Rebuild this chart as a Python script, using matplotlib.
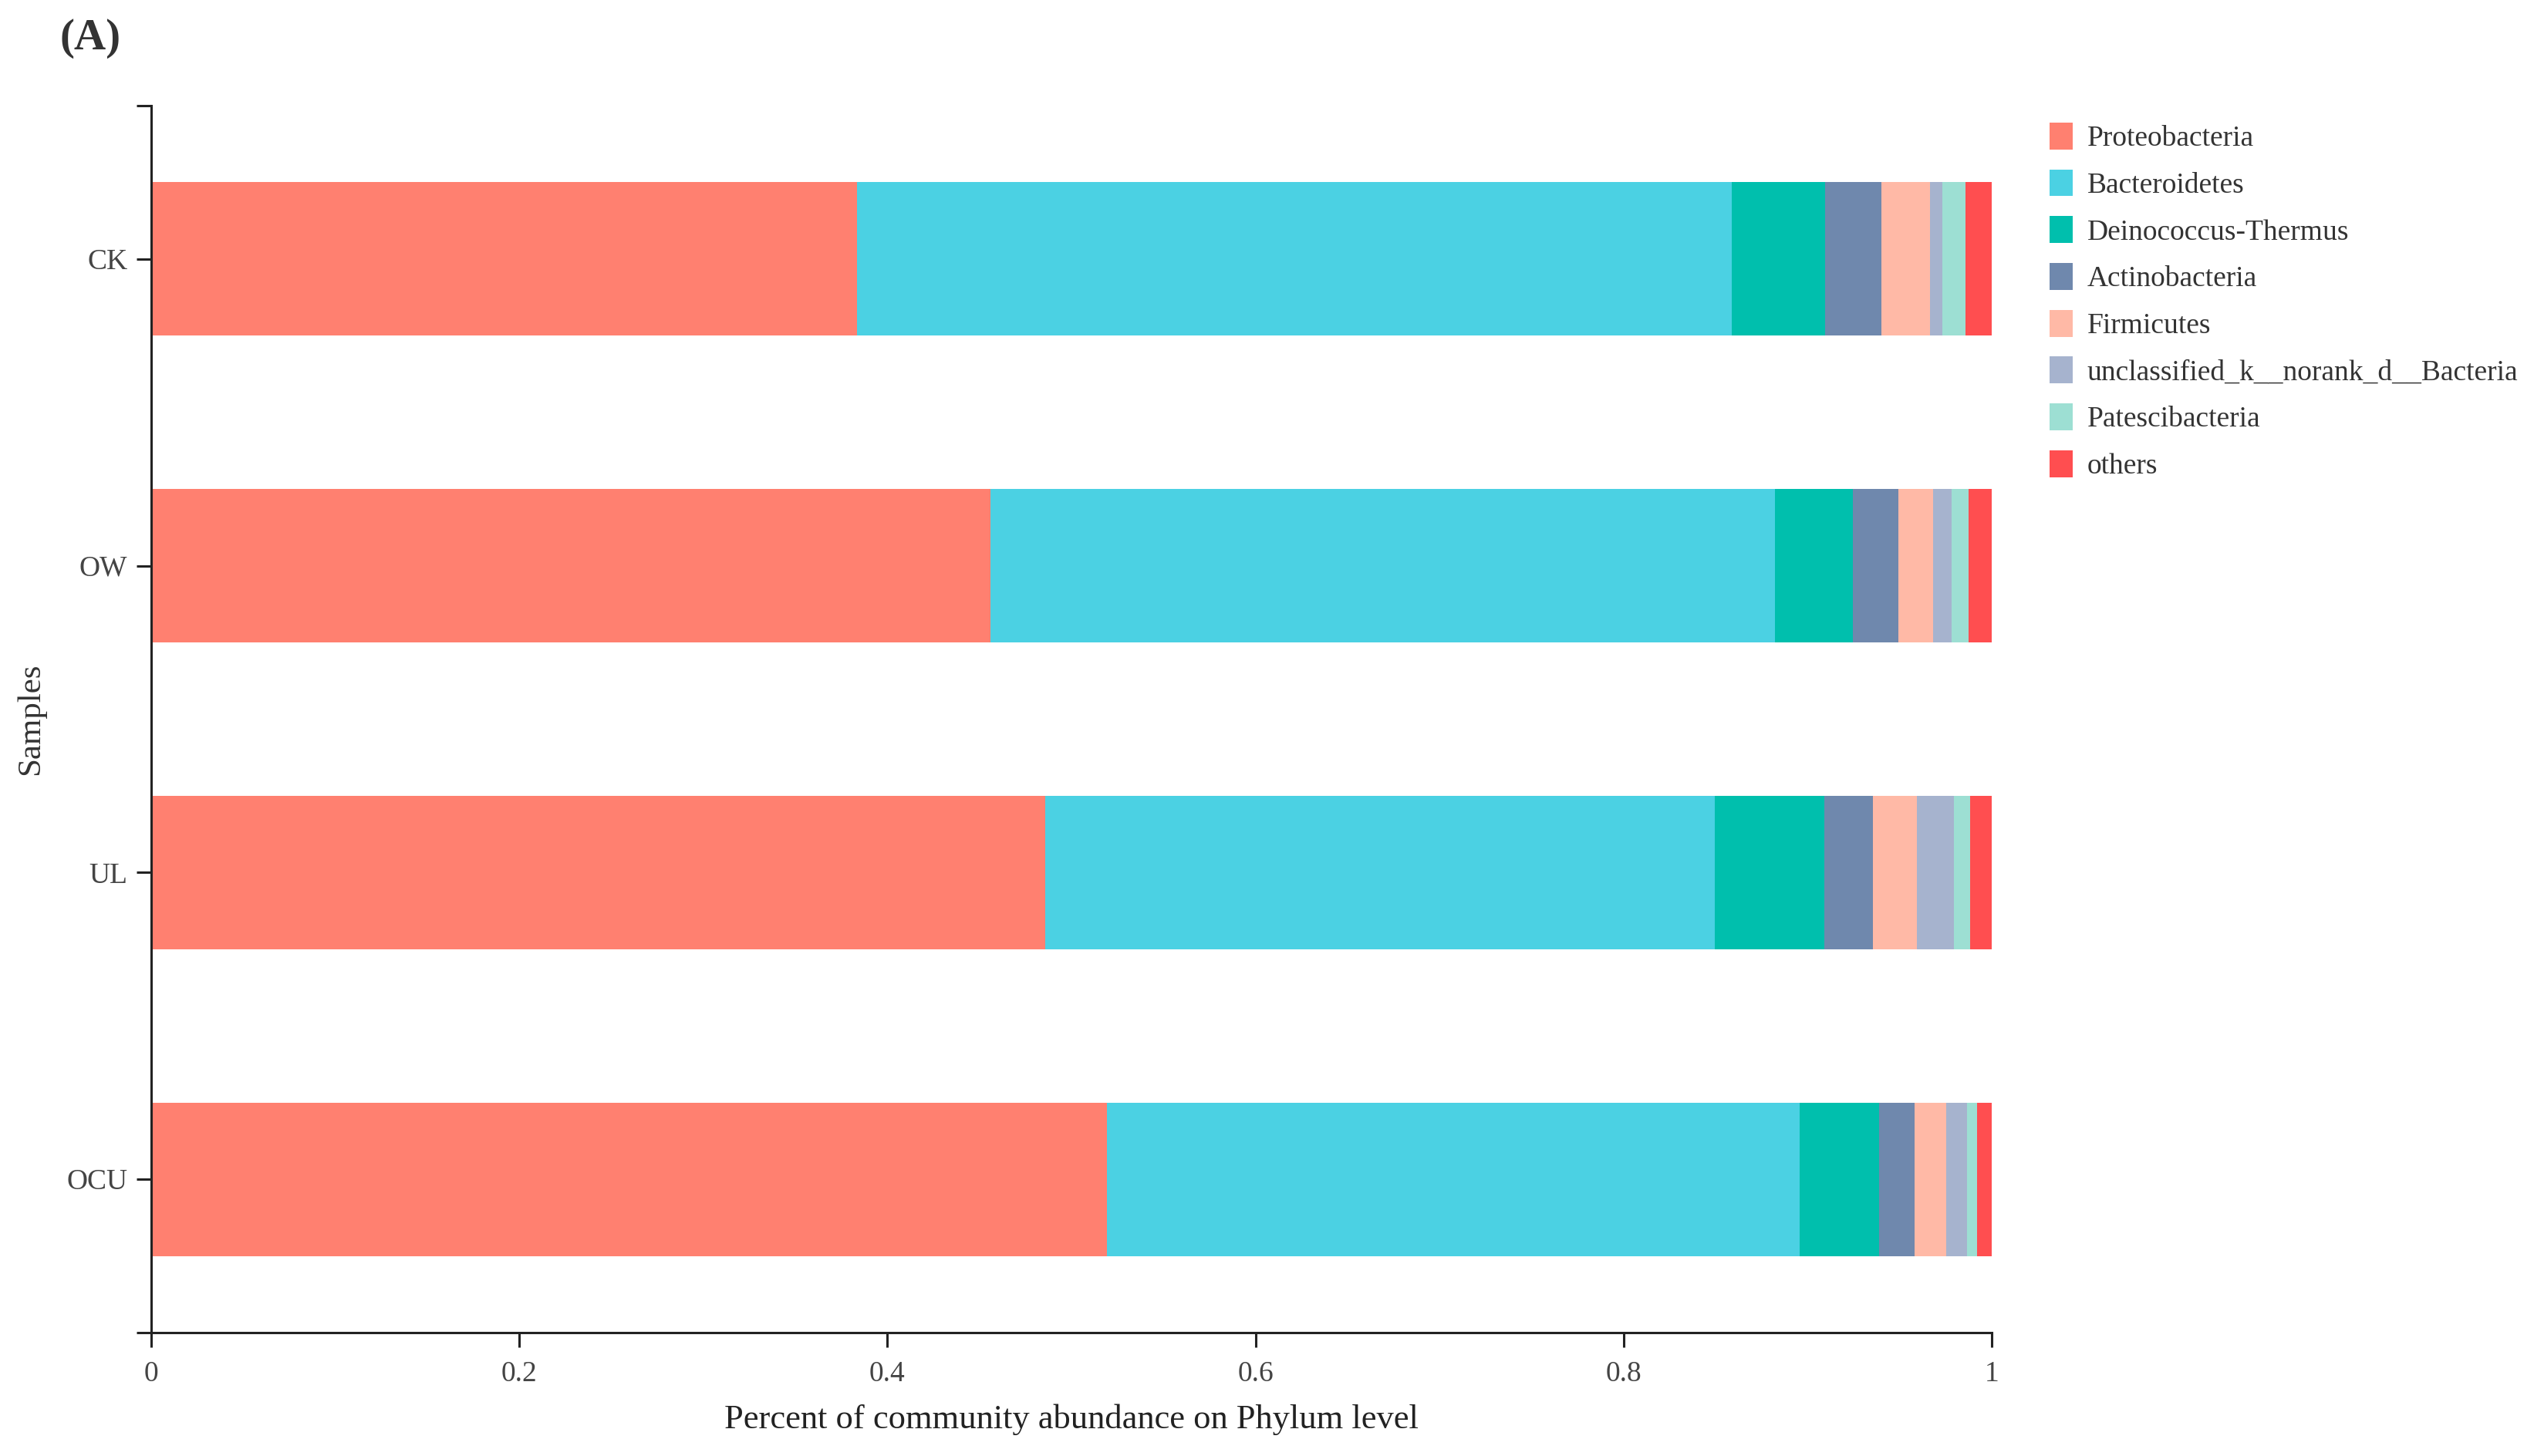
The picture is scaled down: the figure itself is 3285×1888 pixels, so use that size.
import matplotlib
matplotlib.use("Agg")
import matplotlib.pyplot as plt
import numpy as np

samples = ["CK", "OW", "UL", "OCU"]
phyla = ["Proteobacteria", "Bacteroidetes", "Deinococcus-Thermus", "Actinobacteria",
         "Firmicutes", "unclassified_k__norank_d__Bacteria", "Patescibacteria", "others"]
colors = ["#FF8070", "#4BD1E3", "#00BFAD", "#6F88AD", "#FFB9A6", "#A6B3CE", "#9DDFD3", "#FF4E50"]

proteobacteria = [0.3835, 0.4560, 0.4859, 0.5193]
bacteroidetes = [0.4753, 0.4262, 0.3638, 0.3763]
deinococcus = [0.0505, 0.0423, 0.0593, 0.0434]
actinobacteria = [0.0309, 0.0248, 0.0263, 0.0189]
firmicutes = [0.0261, 0.0187, 0.0241, 0.0175]
unclassified = [0.0067, 0.0102, 0.0199, 0.0112]
patescibacteria = [0.0126, 0.0091, 0.0089, 0.0053]
others = [0.0144, 0.0127, 0.0118, 0.0081]

series = [proteobacteria, bacteroidetes, deinococcus, actinobacteria,
          firmicutes, unclassified, patescibacteria, others]

plt.rcParams['font.family'] = ['Liberation Serif', 'DejaVu Serif']

W, H = 3285, 1888
fig = plt.figure(figsize=(W / 100, H / 100), dpi=100)
ax = fig.add_axes([196 / W, 1 - 1728 / H, (2582 - 196) / W, (1728 - 137) / H])

y = np.arange(len(samples))
left = np.zeros(len(samples))
for name, vals, c in zip(phyla, series, colors):
    vals = np.array(vals)
    ax.barh(y, vals, left=left, height=0.5, color=c, label=name, linewidth=0)
    left += vals

ax.set_xlim(0, 1)
ax.set_ylim(3.5, -0.5)
ax.set_yticks([-0.5, 0, 1, 2, 3, 3.5])
ax.set_yticklabels([""] + samples + [""])
ax.set_xticks([0, 0.2, 0.4, 0.6, 0.8, 1])
ax.set_xticklabels(["0", "0.2", "0.4", "0.6", "0.8", "1"])
for s in ["top", "right"]:
    ax.spines[s].set_visible(False)
for s in ["left", "bottom"]:
    ax.spines[s].set_linewidth(2.2)
    ax.spines[s].set_color("#222222")
ax.tick_params(axis="both", length=14, width=2.2, color="#222222", labelsize=27,
               labelcolor="#444444", pad=8)
ax.tick_params(axis="x", pad=12)

ax.set_xlabel("Percent of community abundance on Phylum level", fontsize=32,
              color="#222222", labelpad=16)
ax.set_ylabel("Samples", fontsize=31, color="#333333", labelpad=20)

leg = fig.legend(loc="upper left", bbox_to_anchor=(2642 / W, 1 - 144 / H),
                 frameon=False, fontsize=27, handlelength=0.8, handleheight=1.05,
                 labelspacing=0.6, handletextpad=0.5, borderaxespad=0)
for t in leg.get_texts():
    t.set_color("#333333")

fig.text(78 / W, 1 - 50 / H, "(A)", fontsize=41, fontweight="bold", color="#333333",
         va="center", ha="left")

fig.savefig("out.png", dpi=100)
